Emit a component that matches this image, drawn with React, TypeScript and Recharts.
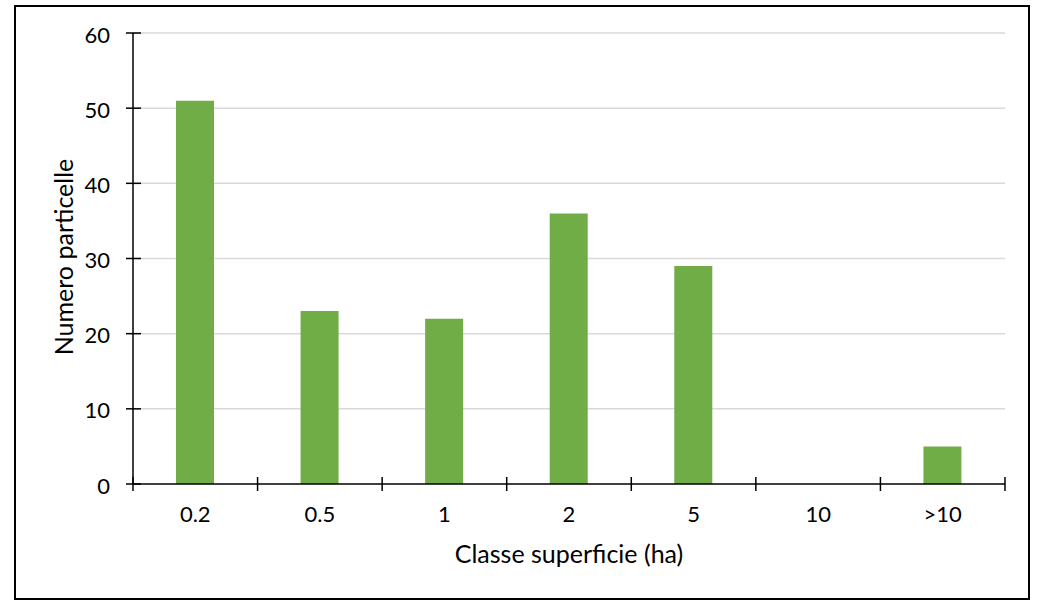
import React from 'react';
import { BarChart, Bar, XAxis, YAxis, CartesianGrid, Label } from 'recharts';

const categories = ['0.2', '0.5', '1', '2', '5', '10', '>10'];
const counts = [51, 23, 22, 36, 29, 0, 5];
const yTicks = [0, 10, 20, 30, 40, 50, 60];

const data = categories.map((c, i) => ({ classe: c, value: counts[i] }));

const W = 1038;
const H = 604;
const M = { top: 33, right: 33, left: 73, bottom: 90 };
const Y_W = 60;
const PLOT_W = W - M.left - Y_W - M.right;
const HALF_BAND = PLOT_W / categories.length / 2;
const FONT = 'Lato, "Open Sans", sans-serif';

const YTick = (props: any) => {
  const { x, y, payload } = props;
  return (
    <g>
      <line x1={x - 7} x2={x + 8} y1={y} y2={y} stroke="#000" strokeWidth={1.5} />
      <text x={x - 23} y={y + 1} textAnchor="end" dominantBaseline="central" fontFamily={FONT} fontSize={22} fill="#000">
        {payload.value}
      </text>
    </g>
  );
};

const XTick = (props: any) => {
  const { x, y, payload, index } = props;
  const last = index === categories.length - 1;
  return (
    <g>
      <line x1={x - HALF_BAND} x2={x - HALF_BAND} y1={y - 7} y2={y + 7} stroke="#000" strokeWidth={1.5} />
      {last && <line x1={x + HALF_BAND} x2={x + HALF_BAND} y1={y - 7} y2={y + 7} stroke="#000" strokeWidth={1.5} />}
      <text x={x} y={y + 38} textAnchor="middle" fontFamily={FONT} fontSize={22} fill="#000">
        {payload.value}
      </text>
    </g>
  );
};

export default function App() {
  return (
    <div style={{ position: 'absolute', left: 0, top: 0, width: W, height: H, background: '#fff' }}>
      <div
        style={{
          position: 'absolute',
          left: 14,
          top: 5,
          width: 1016,
          height: 595,
          border: '2px solid #000',
          boxSizing: 'border-box',
        }}
      />
      <div style={{ position: 'absolute', left: 0, top: 0 }}>
        <BarChart width={W} height={H} data={data} margin={M} barCategoryGap={0}>
          <CartesianGrid vertical={false} stroke="#D9D9D9" strokeWidth={1.5} horizontalValues={[10, 20, 30, 40, 50, 60]} />
          <XAxis
            dataKey="classe"
            height={30}
            tickLine={false}
            tickSize={0}
            tickMargin={0}
            axisLine={{ stroke: '#000', strokeWidth: 1.5 }}
            tick={<XTick />}
            interval={0}
          >
            <Label
              content={() => (
                <text x={569} y={563} textAnchor="middle" fontFamily={FONT} fontSize={25} fill="#000">
                  Classe superficie (ha)
                </text>
              )}
            />
          </XAxis>
          <YAxis
            width={Y_W}
            domain={[0, 60]}
            ticks={yTicks}
            tickLine={false}
            tickSize={0}
            tickMargin={0}
            axisLine={{ stroke: '#000', strokeWidth: 1.5 }}
            tick={<YTick />}
            interval={0}
          >
            <Label
              content={() => (
                <text
                  x={73}
                  y={257}
                  textAnchor="middle"
                  fontFamily={FONT}
                  fontSize={25}
                  fill="#000"
                  transform="rotate(-90 73 257)"
                >
                  Numero particelle
                </text>
              )}
            />
          </YAxis>
          <Bar dataKey="value" fill="#70AD47" barSize={38} isAnimationActive={false} />
        </BarChart>
      </div>
    </div>
  );
}
